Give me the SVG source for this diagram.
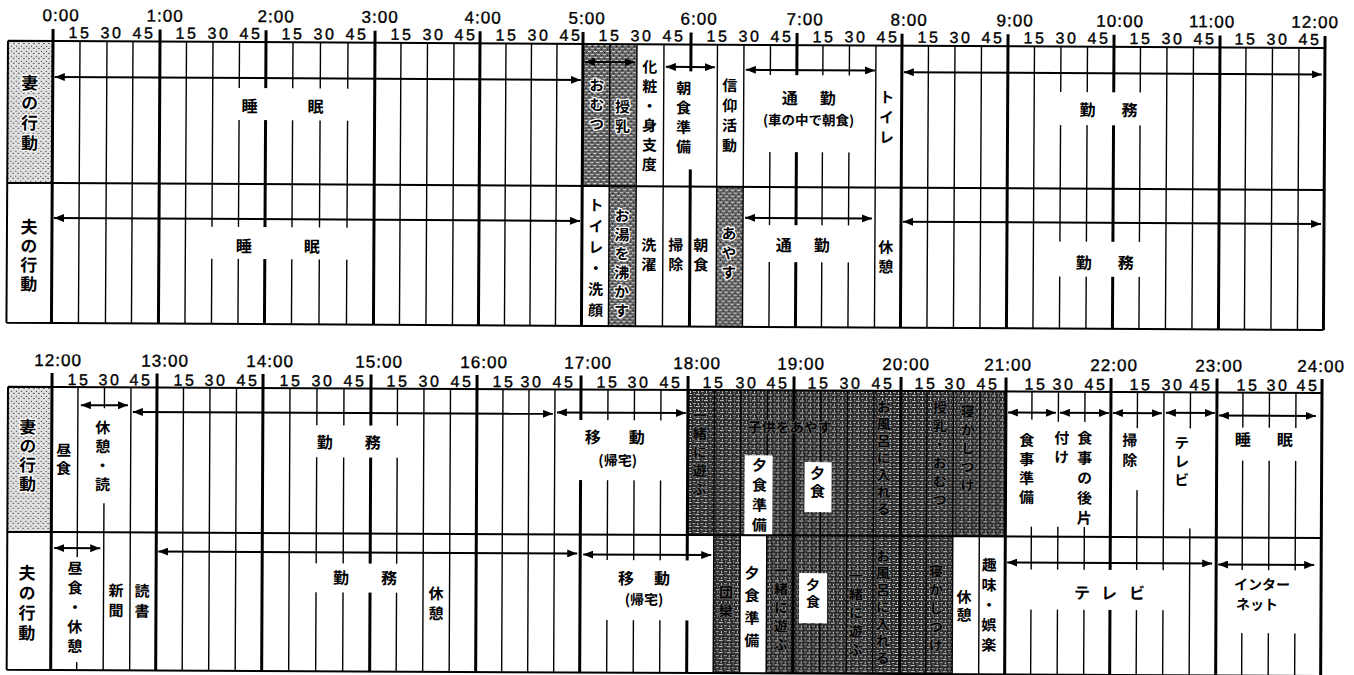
<svg xmlns="http://www.w3.org/2000/svg" width="1354" height="675" viewBox="0 0 1354 675">
<defs>
<style>
.hl{stroke:#000;stroke-width:3;fill:none}
.ql{stroke:#000;stroke-width:1.4;fill:none}
.bd{stroke:#000;stroke-width:2;fill:none}
.ar{stroke:#000;stroke-width:2;fill:none;marker-start:url(#ah);marker-end:url(#ah)}
.tm{font-family:"Liberation Sans",Arial,sans-serif;font-size:17px;letter-spacing:1px;text-anchor:middle;fill:#000;stroke:#000;stroke-width:0.35px}
.mn{font-family:"Liberation Sans",Arial,sans-serif;font-size:16px;letter-spacing:2.5px;text-anchor:middle;fill:#000;stroke:#000;stroke-width:0.35px}
.j{font-family:"Noto Sans CJK JP","Noto Sans CJK SC",sans-serif;font-weight:700;font-size:15px;fill:#000;text-anchor:middle}
.h{font-size:16px}
.lb{font-size:17px}
.v{writing-mode:vertical-rl;text-anchor:start;letter-spacing:4.5px}
.wb{fill:#fff}
.sh{stroke:#fff;stroke-width:2.5px;paint-order:stroke;stroke-linejoin:round}
.sh2{stroke:#6a6a6a;stroke-width:1.5px;paint-order:stroke;stroke-linejoin:round}
</style>
<marker id="ah" viewBox="0 0 10 8" refX="10" refY="4" markerWidth="10" markerHeight="8" markerUnits="userSpaceOnUse" orient="auto-start-reverse"><path d="M0,0L10,4L0,8z" fill="#000"/></marker>
<pattern id="md" width="6" height="6" patternUnits="userSpaceOnUse"><rect width="6" height="6" fill="#666"/><rect x="0" y="0" width="3" height="1" fill="#d8d8d8"/><rect x="3" y="3" width="3" height="1" fill="#c8c8c8"/><rect x="1" y="4" width="1" height="1" fill="#111"/><rect x="4" y="1" width="1" height="1" fill="#111"/></pattern>
<pattern id="dk" width="8" height="6" patternUnits="userSpaceOnUse"><rect width="8" height="6" fill="#2a2a2a"/><rect x="0" y="1" width="4" height="1" fill="#c8c8c8"/><rect x="5" y="4" width="3" height="1" fill="#a8a8a8"/><rect x="2" y="4" width="1" height="2" fill="#d8d8d8"/><rect x="6" y="0" width="1" height="2" fill="#808080"/></pattern>
<pattern id="lt" width="5" height="5" patternUnits="userSpaceOnUse"><rect width="5" height="5" fill="#dedede"/><rect x="1" y="1" width="1" height="1" fill="#333"/><rect x="3" y="3" width="2" height="1" fill="#666"/><rect x="0" y="3" width="1" height="1" fill="#fff"/></pattern>
</defs>
<rect width="1354" height="675" fill="#fff"/>

<g id="chart-am" transform="rotate(0.315 53 41)">
 <g id="am-shade">
  <rect x="8" y="41" width="45" height="142" fill="url(#lt)"/>
  <rect x="583" y="41" width="54" height="142" fill="url(#md)"/>
  <rect x="610" y="183" width="27" height="140" fill="url(#md)"/>
  <rect x="717.5" y="183" width="26.5" height="140" fill="url(#md)"/>
 </g>
 <g id="am-grid">
  <path class="ql" d="M80,41V323M107,41V323M133,41V323M186.5,41V323M213,41V323M239.5,41V323M293,41V323M320.5,41V323M348,41V323M401,41V323M427.5,41V323M454,41V323M506,41V323M531.5,41V323M557,41V323M610,41V323M637,41V323M664,41V323M717.5,41V323M744,41V323M770.5,41V323M823,41V323M849.5,41V323M876,41V323M928.5,41V323M955,41V323M981.5,41V323M1034.5,41V323M1061,41V323M1087.5,41V323M1140.5,41V323M1167,41V323M1193.5,41V323M1246,41V323M1272.5,41V323M1299,41V323"/>
  <path class="hl" d="M53,29V323M160,29V323M266,29V323M375,29V323M480,29V323M583,29V323M691,29V323M797,29V323M902,29V323M1008,29V323M1114,29V323M1220,29V323M1325,29V323"/>
 </g>
 <g id="am-gaps" class="wb">
  <rect x="230" y="87" width="126" height="32"/>
  <rect x="205" y="226" width="151" height="32"/>
  <rect x="666" y="68" width="46" height="98"/>
  <rect x="758" y="71" width="104" height="77"/>
  <rect x="758" y="221" width="104" height="37"/>
  <rect x="1052" y="86.5" width="100" height="33"/>
  <rect x="1052" y="236" width="100" height="35"/>
 </g>
 <path id="am-border" class="bd" d="M8,41H1325M8,183H1325M8,323H1325M8,41V323"/>
 <g id="am-time">
  <text class="tm" x="61" y="21">0:00</text><text class="tm" x="165" y="21">1:00</text><text class="tm" x="276" y="21">2:00</text><text class="tm" x="380" y="21">3:00</text><text class="tm" x="483" y="21">4:00</text><text class="tm" x="587" y="21">5:00</text><text class="tm" x="699" y="21">6:00</text><text class="tm" x="805" y="21">7:00</text><text class="tm" x="909" y="21">8:00</text><text class="tm" x="1015" y="21">9:00</text><text class="tm" x="1120" y="21">10:00</text><text class="tm" x="1212" y="21">11:00</text><text class="tm" x="1315" y="21">12:00</text>
  <text class="mn" x="80" y="38">15</text><text class="mn" x="112" y="38">30</text><text class="mn" x="144" y="38">45</text>
  <text class="mn" x="187" y="38">15</text><text class="mn" x="219" y="38">30</text><text class="mn" x="251" y="38">45</text>
  <text class="mn" x="293" y="38">15</text><text class="mn" x="325" y="38">30</text><text class="mn" x="357" y="38">45</text>
  <text class="mn" x="402" y="38">15</text><text class="mn" x="434" y="38">30</text><text class="mn" x="466" y="38">45</text>
  <text class="mn" x="507" y="38">15</text><text class="mn" x="539" y="38">30</text><text class="mn" x="571" y="38">45</text>
  <text class="mn" x="610" y="38">15</text><text class="mn" x="642" y="38">30</text><text class="mn" x="674" y="38">45</text>
  <text class="mn" x="718" y="38">15</text><text class="mn" x="750" y="38">30</text><text class="mn" x="782" y="38">45</text>
  <text class="mn" x="824" y="38">15</text><text class="mn" x="856" y="38">30</text><text class="mn" x="888" y="38">45</text>
  <text class="mn" x="929" y="38">15</text><text class="mn" x="961" y="38">30</text><text class="mn" x="993" y="38">45</text>
  <text class="mn" x="1035" y="38">15</text><text class="mn" x="1067" y="38">30</text><text class="mn" x="1099" y="38">45</text>
  <text class="mn" x="1141" y="38">15</text><text class="mn" x="1173" y="38">30</text><text class="mn" x="1205" y="38">45</text>
  <text class="mn" x="1246" y="38">15</text><text class="mn" x="1278" y="38">30</text><text class="mn" x="1310" y="38">45</text>
 </g>
 <g id="am-connectors">
  <path class="ar" d="M55,77H581"/>
  <path class="ar" d="M585,59H635"/>
  <path class="ar" d="M666,63.5H715"/>
  <path class="ar" d="M746,66H875"/>
  <path class="ar" d="M904,67.5H1322"/>
  <path class="ar" d="M55,218H581"/>
  <path class="ar" d="M746,214H873"/>
  <path class="ar" d="M904,217H1322"/>
 </g>
 <g id="am-wife-label"><text class="j v lb sh" x="30" y="74.5" style="letter-spacing:3px">妻の行動</text></g>
 <g id="am-husband-label"><text class="j v lb" x="30" y="218.5" style="letter-spacing:2px">夫の行動</text></g>
 <g id="am-wife-sleep"><text class="j h" x="250" y="111">睡</text><text class="j h" x="316" y="111">眠</text></g>
 <g id="am-wife-omutsu"><text class="j v sh" x="597" y="74.5">おむつ</text></g>
 <g id="am-wife-junyu"><text class="j v sh" x="623" y="96">授乳</text></g>
 <g id="am-wife-kesho"><text class="j v" x="650" y="56">化粧・身支度</text></g>
 <g id="am-wife-asajunbi"><text class="j v" x="684" y="77">朝食準備</text></g>
 <g id="am-wife-shinko"><text class="j v" x="730" y="74" style="letter-spacing:5px">信仰活動</text></g>
 <g id="am-wife-tsukin"><text class="j h" x="790" y="100">通</text><text class="j h" x="828" y="100">勤</text><text class="j" x="809" y="121" style="font-size:13.5px">(車の中で朝食)</text></g>
 <g id="am-wife-toilet"><text class="j v" x="887" y="85" style="letter-spacing:5px">トイレ</text></g>
 <g id="am-wife-kinmu"><text class="j h" x="1088" y="110">勤</text><text class="j h" x="1130" y="110">務</text></g>
 <g id="am-hus-sleep"><text class="j h" x="245" y="251">睡</text><text class="j h" x="313" y="251">眠</text></g>
 <g id="am-hus-toilet"><text class="j v" x="597" y="194.5" style="letter-spacing:6px">トイレ・洗顔</text></g>
 <g id="am-hus-oyu"><text class="j v sh" x="623" y="205" style="letter-spacing:4px">お湯を沸かす</text></g>
 <g id="am-hus-sentaku"><text class="j v" x="650" y="234">洗濯</text></g>
 <g id="am-hus-soji"><text class="j v" x="677" y="234">掃除</text></g>
 <g id="am-hus-choshoku"><text class="j v" x="702" y="234">朝食</text></g>
 <g id="am-hus-ayasu"><text class="j v sh" x="730" y="222">あやす</text></g>
 <g id="am-hus-tsukin"><text class="j h" x="785" y="247">通</text><text class="j h" x="823" y="247">勤</text></g>
 <g id="am-hus-kyukei"><text class="j v" x="887" y="235">休憩</text></g>
 <g id="am-hus-kinmu"><text class="j h" x="1085" y="263">勤</text><text class="j h" x="1127" y="263">務</text></g>
</g>

<g id="chart-pm" transform="rotate(0.27 52 387)">
 <g id="pm-shade">
  <rect x="8" y="387" width="44" height="145" fill="url(#lt)"/>
  <rect x="688" y="387" width="318" height="145" fill="url(#dk)"/>
  <rect x="714.5" y="532" width="26.5" height="138" fill="url(#dk)"/>
  <rect x="767.5" y="532" width="186" height="138" fill="url(#dk)"/>
 </g>
 <g id="pm-grid">
  <path class="ql" d="M78,387V670M104.5,387V670M131,387V670M183.5,387V670M210,387V670M236.5,387V670M290,387V670M317,387V670M344,387V670M397.5,387V670M424,387V670M450.5,387V670M503,387V670M529,387V670M555,387V670M608,387V670M634.5,387V670M661,387V670M714.5,387V670M741,387V670M767.5,387V670M821,387V670M847.5,387V670M874,387V670M927,387V670M953.5,387V670M980,387V670M1032,387V670M1058.5,387V670M1085,387V670M1137.5,387V670M1164,387V670M1190.5,387V670M1243,387V670M1269.5,387V670M1296,387V670"/>
  <path class="hl" d="M52,373V670M157,373V670M263,373V670M371,373V670M477,373V670M581,373V670M688,373V670M794,373V670M901,373V670M1006,373V670M1111,373V670M1217,373V670M1322,373V670"/>
 </g>
 <g id="pm-gaps" class="wb">
  <rect x="92" y="408" width="24" height="95"/>
  <rect x="306" y="424" width="101" height="32"/>
  <rect x="568" y="417.5" width="106" height="60"/>
  <rect x="66" y="557" width="22" height="105"/>
  <rect x="306" y="562" width="101" height="29"/>
  <rect x="595" y="557.5" width="105" height="60"/>
  <rect x="1017" y="415" width="25" height="107"/>
  <rect x="1050" y="417" width="50" height="105"/>
  <rect x="1122" y="423" width="28" height="62"/>
  <rect x="1172" y="423" width="32" height="100"/>
  <rect x="1230" y="422" width="75" height="33"/>
  <rect x="1022" y="565" width="154" height="40"/>
  <rect x="1232" y="564.5" width="74" height="63"/>
  <rect x="745" y="452" width="28" height="80"/>
  <rect x="805" y="458.5" width="27" height="50"/>
  <rect x="800" y="569.5" width="28" height="50"/>
 </g>
 <path id="pm-border" class="bd" d="M8,387H1322M8,532H1322M8,670H1322M8,387V670"/>
 <g id="pm-time">
  <text class="tm" x="58" y="366">12:00</text><text class="tm" x="165" y="366">13:00</text><text class="tm" x="270" y="366">14:00</text><text class="tm" x="379" y="366">15:00</text><text class="tm" x="484" y="366">16:00</text><text class="tm" x="588" y="366">17:00</text><text class="tm" x="697" y="366">18:00</text><text class="tm" x="801" y="366">19:00</text><text class="tm" x="906" y="366">20:00</text><text class="tm" x="1008" y="366">21:00</text><text class="tm" x="1114" y="366">22:00</text><text class="tm" x="1219" y="366">23:00</text><text class="tm" x="1321" y="366">24:00</text>
  <text class="mn" x="79" y="385">15</text><text class="mn" x="110" y="385">30</text><text class="mn" x="141" y="385">45</text>
  <text class="mn" x="185" y="385">15</text><text class="mn" x="216" y="385">30</text><text class="mn" x="248" y="385">45</text>
  <text class="mn" x="291" y="385">15</text><text class="mn" x="323" y="385">30</text><text class="mn" x="355" y="385">45</text>
  <text class="mn" x="398" y="385">15</text><text class="mn" x="430" y="385">30</text><text class="mn" x="462" y="385">45</text>
  <text class="mn" x="504" y="385">15</text><text class="mn" x="532" y="385">30</text><text class="mn" x="564" y="385">45</text>
  <text class="mn" x="608" y="385">15</text><text class="mn" x="639" y="385">30</text><text class="mn" x="671" y="385">45</text>
  <text class="mn" x="714" y="385">15</text><text class="mn" x="747" y="385">30</text><text class="mn" x="778" y="385">45</text>
  <text class="mn" x="819" y="385">15</text><text class="mn" x="851" y="385">30</text><text class="mn" x="883" y="385">45</text>
  <text class="mn" x="926" y="385">15</text><text class="mn" x="956" y="385">30</text><text class="mn" x="988" y="385">45</text>
  <text class="mn" x="1036" y="385">15</text><text class="mn" x="1064" y="385">30</text><text class="mn" x="1096" y="385">45</text>
  <text class="mn" x="1141" y="385">15</text><text class="mn" x="1173" y="385">30</text><text class="mn" x="1201" y="385">45</text>
  <text class="mn" x="1248" y="385">15</text><text class="mn" x="1278" y="385">30</text><text class="mn" x="1308" y="385">45</text>
 </g>
 <g id="pm-connectors">
  <path class="ar" d="M81,405H128"/>
  <path class="ar" d="M133,411.5H553"/>
  <path class="ar" d="M557,410H686"/>
  <path class="ar" d="M1008,408H1056"/>
  <path class="ar" d="M1060,408H1109"/>
  <path class="ar" d="M1113,408H1162"/>
  <path class="ar" d="M1166,407.5H1215"/>
  <path class="ar" d="M1219,410H1316"/>
  <path class="ar" d="M55,548H101"/>
  <path class="ar" d="M159,551H578"/>
  <path class="ar" d="M584,552H712"/>
  <path class="ar" d="M1008,558H1213"/>
  <path class="ar" d="M1219,559H1315"/>
 </g>
 <g id="pm-wife-label"><text class="j v lb sh" x="28" y="418.5" style="letter-spacing:2px">妻の行動</text></g>
 <g id="pm-husband-label"><text class="j v lb" x="28" y="564.5" style="letter-spacing:3px">夫の行動</text></g>
 <g id="pm-wife-lunch"><text class="j v" x="64" y="442.5" style="letter-spacing:3px">昼食</text></g>
 <g id="pm-wife-rest"><text class="j v" x="103" y="419.5" style="letter-spacing:4px">休憩・読</text></g>
 <g id="pm-wife-kinmu"><text class="j h" x="325" y="447">勤</text><text class="j h" x="373" y="447">務</text></g>
 <g id="pm-wife-ido"><text class="j h" x="593" y="440.5">移</text><text class="j h" x="637" y="440.5">動</text><text class="j" x="618" y="463" style="font-size:14px">(帰宅)</text></g>
 <g id="pm-wife-evening">
  <text class="j v sh2" x="700" y="405" style="font-size:14px">一緒に遊ぶ</text>
  <text class="j sh2" x="790" y="429" style="font-size:14px">子供をあやす</text>
  <text class="j v sh2" x="884" y="396" style="font-size:14px;letter-spacing:3px">お風呂に入れる</text>
  <text class="j v sh2" x="940" y="396" style="font-size:14px">授乳・おむつ</text>
  <text class="j v sh2" x="968" y="400" style="font-size:14px">寝かしつけ</text>
 </g>
 <g id="pm-wife-dinnerprep"><text class="j v" x="760" y="454" style="letter-spacing:5px">夕食準備</text></g>
 <g id="pm-wife-dinner"><text class="j v" x="818" y="462" style="letter-spacing:3px">夕食</text></g>
 <g id="pm-wife-mealprep"><text class="j v" x="1027" y="428" style="letter-spacing:4px">食事準備</text></g>
 <g id="pm-wife-cleanup"><text class="j v" x="1085" y="425.5" style="letter-spacing:5px">食事の後片</text><text class="j v" x="1062" y="425.5" style="letter-spacing:4px">付け</text></g>
 <g id="pm-wife-soji"><text class="j v" x="1130" y="427.5" style="letter-spacing:5px">掃除</text></g>
 <g id="pm-wife-tv"><text class="j v" x="1182" y="430" style="letter-spacing:3.5px">テレビ</text></g>
 <g id="pm-wife-sleep"><text class="j h" x="1243" y="440">睡</text><text class="j h" x="1285" y="440">眠</text></g>
 <g id="pm-hus-lunch"><text class="j v" x="76" y="560.5">昼食・休憩</text></g>
 <g id="pm-hus-shinbun"><text class="j v" x="117" y="582.5" style="letter-spacing:5px">新聞</text></g>
 <g id="pm-hus-dokusho"><text class="j v" x="143" y="583" style="letter-spacing:5px">読書</text></g>
 <g id="pm-hus-kinmu"><text class="j h" x="342" y="582.5">勤</text><text class="j h" x="390" y="582.5">務</text></g>
 <g id="pm-hus-kyukei1"><text class="j v" x="437" y="584" style="letter-spacing:5px">休憩</text></g>
 <g id="pm-hus-ido"><text class="j h" x="627" y="581.5">移</text><text class="j h" x="663" y="581.5">動</text><text class="j" x="645" y="602" style="font-size:14px">(帰宅)</text></g>
 <g id="pm-hus-evening">
  <text class="j v sh2" x="727" y="582" style="font-size:14px">団欒</text>
  <text class="j v sh2" x="782" y="560" style="font-size:14px">一緒に遊ぶ</text>
  <text class="j v sh2" x="857" y="565" style="font-size:14px">一緒に遊ぶ</text>
  <text class="j v sh2" x="884" y="545" style="font-size:14px;letter-spacing:3px">お風呂に入れる</text>
  <text class="j v sh2" x="937" y="560" style="font-size:14px">寝かしつけ</text>
 </g>
 <g id="pm-hus-dinnerprep"><text class="j v" x="753" y="562" style="letter-spacing:7.5px">夕食準備</text></g>
 <g id="pm-hus-dinner"><text class="j v" x="814" y="574" style="font-size:14px;letter-spacing:3px">夕食</text></g>
 <g id="pm-hus-kyukei2"><text class="j v" x="965" y="585" style="letter-spacing:3px">休憩</text></g>
 <g id="pm-hus-hobby"><text class="j v" x="990" y="553" style="letter-spacing:5px">趣味・娯楽</text></g>
 <g id="pm-hus-tv"><text class="j h" x="1083" y="594">テ</text><text class="j h" x="1110" y="594">レ</text><text class="j h" x="1138" y="594">ビ</text></g>
 <g id="pm-hus-net"><text class="j" x="1263" y="584" style="font-size:14px">インター</text><text class="j" x="1258" y="604" style="font-size:14px">ネット</text></g>
</g>
</svg>
